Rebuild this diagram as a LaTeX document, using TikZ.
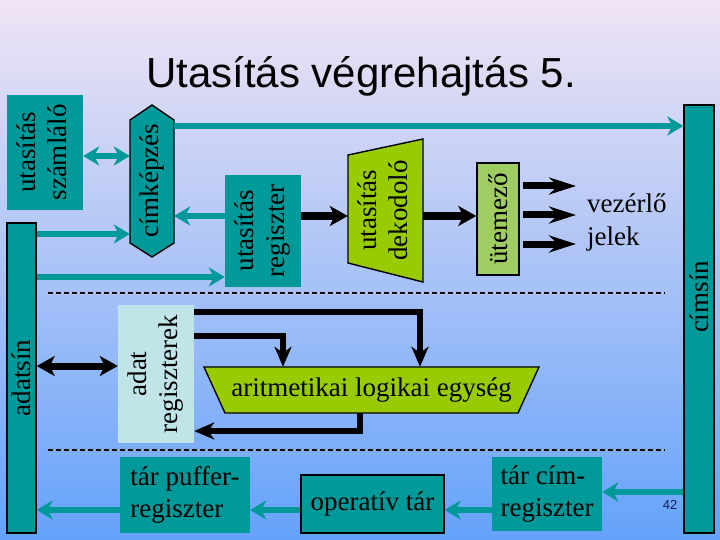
\documentclass[tikz,border=0pt]{standalone}
\usepackage{fontspec}
\setmainfont{Liberation Serif}
\newfontfamily\sansf{Liberation Sans}
\usetikzlibrary{arrows.meta,calc}
\definecolor{tealc}{RGB}{0,153,153}
\definecolor{limec}{RGB}{153,204,0}
\definecolor{utemc}{RGB}{160,204,100}
\definecolor{adatc}{RGB}{192,228,232}
\definecolor{bgtop}{RGB}{240,228,244}
\definecolor{bgbot}{RGB}{100,162,250}
\definecolor{navyc}{RGB}{20,30,90}
\newcommand\rottext[1]{\rotatebox{90}{\begin{tabular}{@{}c@{}}#1\end{tabular}}}
\begin{document}
\begin{tikzpicture}[x=1pt,y=-1pt,
  lbl/.style={font=\fontsize{27}{31}\selectfont, inner sep=0pt},
  tealbox/.style={lbl, fill=tealc, draw=none},
  framed/.style={draw=black, line width=1.4pt},
  tarr/.style={draw=tealc, line width=6pt, -{Stealth[length=16pt,width=19pt,inset=5pt]}},
  tdarr/.style={draw=tealc, line width=6pt, {Stealth[length=16pt,width=19pt,inset=5pt]}-{Stealth[length=16pt,width=19pt,inset=5pt]}},
  barr/.style={draw=black, line width=8pt, -{Stealth[length=18pt,width=20pt,inset=5pt]}},
  bdarr/.style={draw=black, line width=7pt, {Stealth[length=18pt,width=20pt,inset=5pt]}-{Stealth[length=18pt,width=20pt,inset=5pt]}},
  varr/.style={draw=black, line width=7pt, -{Stealth[length=27pt,width=17pt,inset=9pt]}},
  aarr/.style={draw=black, line width=6pt, -{Stealth[length=20pt,width=17pt,inset=6pt]}, line join=miter},
  dline/.style={draw=black, line width=1.3pt, dash pattern=on 5pt off 3pt}
]
\useasboundingbox (0,0) rectangle (720,540);
\shade[top color=bgtop, bottom color=bgbot] (0,0) rectangle (720,540);

% title
\node[font=\sansf\fontsize{42}{50}\selectfont, anchor=base] (title) at (361,88) {Utasítás végrehajtás 5.};

% dashed separators
\draw[dline] (48,293) -- (665,293);
\draw[dline] (48,450) -- (665,450);

% upper part
\node[tealbox, minimum width=76pt, minimum height=115pt] (szamlalo) at (45,152.5) {\rottext{utasítás\\számláló}};

\filldraw[fill=tealc, framed] (152,105) -- (174,120) -- (174,243) -- (152,257) -- (130,243) -- (130,120) -- cycle;
\node[lbl, minimum width=44pt, minimum height=152pt] (ck) at (152,181) {\rotatebox{90}{címképzés}};

\node[tealbox, minimum width=76pt, minimum height=112pt] (utreg) at (263,231) {\rottext{utasítás\\regiszter}};

\filldraw[fill=limec, framed] (348,155) -- (423,139) -- (423,282) -- (348,263) -- cycle;
\node[lbl, minimum width=75pt, minimum height=143pt] (dekod) at (385.5,210.5) {\rottext{utasítás\\dekodoló}};

\node[lbl, fill=utemc, framed, minimum width=42pt, minimum height=112pt] (utem) at (498,219) {\rotatebox{90}{ütemező}};

\node[lbl, font=\fontsize{27}{33}\selectfont, align=left, anchor=west] (vez) at (587,222) {vezérlő\\jelek};

% buses
\node[tealbox, framed, minimum width=29pt, minimum height=310pt] (adatsin) at (21.5,378) {\rotatebox{90}{adatsín}};
\node[tealbox, framed, minimum width=30pt, minimum height=428pt] (cimsin) at (699,319) {};
\node[lbl] (cimsinlbl) at (699,297) {\rotatebox{90}{címsín}};

% middle part
\node[lbl, fill=adatc, minimum width=76pt, minimum height=138pt] (adatreg) at (156,374) {\rottext{adat\\regiszterek}};

\filldraw[fill=limec, framed] (204,367) -- (539,367) -- (518,413) -- (225,413) -- cycle;
\node[lbl, minimum width=335pt, minimum height=46pt] (alu) at (371.5,390) {aritmetikai logikai egység};

% lower part
\node[tealbox, minimum width=130pt, minimum height=76pt, align=left, font=\fontsize{27}{32}\selectfont] (puffer) at (185,495) {tár puffer-\\regiszter};
\node[tealbox, framed, minimum width=143pt, minimum height=58pt] (operativ) at (372.5,504) {operatív tár};
\node[tealbox, minimum width=110pt, minimum height=74pt, align=left, font=\fontsize{27}{32}\selectfont] (cimreg) at (547,494) {tár cím-\\regiszter};

\node[font=\sansf\fontsize{13}{15}\selectfont, text=navyc] (pagenum) at (670,505) {42};

% teal connectors
\draw[tdarr] (szamlalo.east |- 0,156) -- (ck.west |- 0,156);
\draw[tarr] (adatsin.east |- 0,234) -- (ck.west |- 0,234);
\draw[tarr] (adatsin.east |- 0,277) -- (utreg.west |- 0,277);
\draw[tarr] (utreg.west |- 0,216) -- (ck.east |- 0,216);
\draw[tarr] (ck.east |- 0,126) -- (cimsin.west |- 0,126);
\draw[tarr] (cimsin.west |- 0,492) -- (cimreg.east |- 0,492);
\draw[tarr] (cimreg.west |- 0,510) -- (operativ.east |- 0,510);
\draw[tarr] (operativ.west |- 0,510) -- (puffer.east |- 0,510);
\draw[tarr] (puffer.west |- 0,510) -- (adatsin.east |- 0,510);

% black connectors
\draw[barr] (utreg.east |- 0,216) -- (dekod.west |- 0,216);
\draw[barr] (dekod.east |- 0,216) -- (utem.west |- 0,216);
\coordinate (v1) at (576,186);
\coordinate (v2) at (576,215);
\coordinate (v3) at (576,244);
\draw[varr, shorten <=3pt] (utem.east |- v1) -- (v1);
\draw[varr, shorten <=3pt] (utem.east |- v2) -- (v2);
\draw[varr, shorten <=3pt] (utem.east |- v3) -- (v3);
\draw[bdarr] (adatsin.east |- 0,366) -- (adatreg.west |- 0,366);
\coordinate (c1) at (420,312);
\coordinate (c2) at (283,336);
\coordinate (c3) at (360,431);
\draw[aarr] (adatreg.east |- c1) -- (c1) -- (c1 |- alu.north);
\draw[aarr] (adatreg.east |- c2) -- (c2) -- (c2 |- alu.north);
\draw[aarr] (c3 |- alu.south) -- (c3) -- (adatreg.east |- c3);
\end{tikzpicture}
\end{document}
